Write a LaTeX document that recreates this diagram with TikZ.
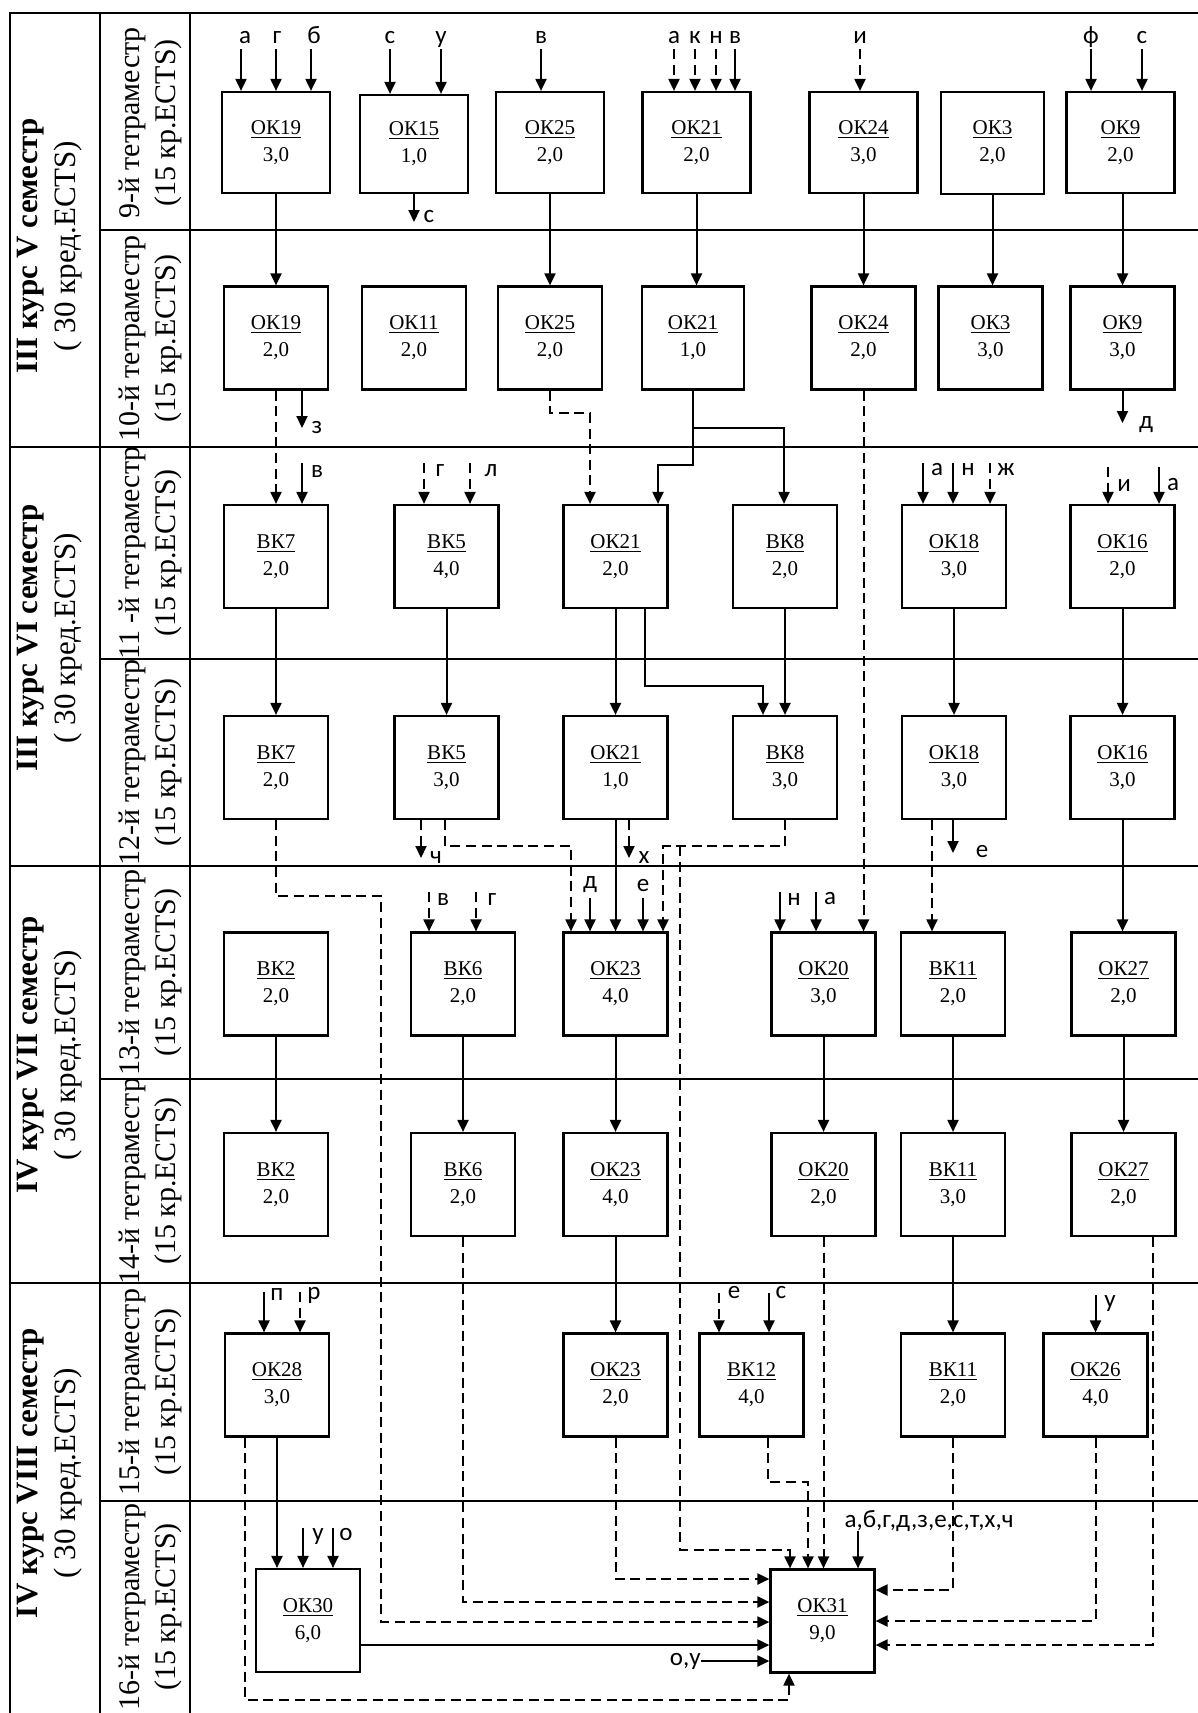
\documentclass[tikz,border=0pt]{standalone}
\usepackage{fontspec}
\setmainfont{Liberation Serif}
\newfontfamily\labfont{Carlito}
\usetikzlibrary{arrows.meta}
\newcommand\mybox[6][]{\node[box,#1] (#2) at (#3,#4) {\underline{#5}\\#6};}
\newcommand\myin[5][]{\coordinate (#2) at (#3,#4);\draw[arr,#1] (#2) -- (#2 |- #5.north);}
\newcommand\myout[5][]{\coordinate (#2) at (#3,#4);\draw[arr,#1] (#2 |- #5.south) -- (#2);}
\newcommand\vcon[3][]{\draw[arr,#1] (#2.south) -- (#2.south |- #3.north);}
\newcommand\lb[4]{\node[lab,anchor=base] (#1) at (#2,#3) {#4};}
\tikzset{
  grid/.style={line width=1.1pt},
  box/.style={draw, fill=white, line width=1.1pt, minimum width=52pt, minimum height=51.5pt, inner sep=0pt, align=center, font=\fontsize{10.5}{13.5}\selectfont},
  wide/.style={minimum width=54pt, minimum height=50.5pt},
  con/.style={line width=1pt},
  arr/.style={con, -{Triangle[length=6pt,width=5.5pt]}},
  dsh/.style={dash pattern=on 5pt off 2.8pt},
  lab/.style={font=\labfont\fontsize{12.5}{14}\selectfont, inner sep=0pt},
  rowlab/.style={rotate=90, align=center, font=\fontsize{15}{18}\selectfont, inner sep=0pt},
  semlab/.style={rotate=90, align=center, font=\fontsize{15.5}{19}\selectfont, inner sep=0pt}
}
\begin{document}
\begin{tikzpicture}[x=0.5pt,y=-0.5pt]
\useasboundingbox (0,0) rectangle (1198,1713);
% grid
\draw[grid] (10,1713) -- (10,13) -- (1198,13);
\draw[grid] (100,13) -- (100,1713);
\draw[grid] (190,13) -- (190,1713);
\foreach \yy in {447,866,1283} \draw[grid] (10,\yy) -- (1198,\yy);
\foreach \yy in {230,659,1079,1501} \draw[grid] (100,\yy) -- (1198,\yy);
% semester labels
\node[semlab] (s1) at (50,246) {\textbf{III курс V семестр}\\( 30 кред.ECTS)};
\node[semlab] (s2) at (50,638) {\textbf{III курс VI семестр}\\( 30 кред.ECTS)};
\node[semlab] (s3) at (50,1055) {\textbf{IV курс VII семестр}\\( 30 кред.ECTS)};
\node[semlab] (s4) at (50,1473) {\textbf{IV курс VIII семестр}\\( 30 кред.ECTS)};
% tetramester labels
\node[rowlab] (r9) at (150,123) {9-й тетраместр\\(15 кр.ECTS)};
\node[rowlab] (r10) at (150,338.5) {10-й тетраместр\\(15 кр.ECTS)};
\node[rowlab] (r11) at (150,553) {11 -й тетраместр\\(15 кр.ECTS)};
\node[rowlab] (r12) at (150,762.5) {12-й тетраместр\\(15 кр.ECTS)};
\node[rowlab] (r13) at (150,972.5) {13-й тетраместр\\(15 кр.ECTS)};
\node[rowlab] (r14) at (150,1181) {14-й тетраместр\\(15 кр.ECTS)};
\node[rowlab] (r15) at (150,1392) {15-й тетраместр\\(15 кр.ECTS)};
\node[rowlab] (r16) at (150,1607) {16-й тетраместр\\(15 кр.ECTS)};
% boxes row 9
\mybox[wide]{a19}{276}{142.5}{ОК19}{3,0}
\mybox[wide,minimum height=49pt]{a15}{414}{144}{ОК15}{1,0}
\mybox[wide]{a25}{550}{142.5}{ОК25}{2,0}
\mybox[wide]{a21}{696.5}{142.5}{ОК21}{2,0}
\mybox[wide]{a24}{863.5}{142.5}{ОК24}{3,0}
\mybox[minimum width=51.5pt,minimum height=51pt]{a3}{992.5}{143}{ОК3}{2,0}
\mybox[wide]{a9}{1120.5}{142.5}{ОК9}{2,0}
% row 10
\mybox{b19}{276}{338}{ОК19}{2,0}
\mybox{b11}{414}{338}{ОК11}{2,0}
\mybox{b25}{550}{338}{ОК25}{2,0}
\mybox[minimum width=51pt]{b21}{693}{338}{ОК21}{1,0}
\mybox{b24}{863.5}{338}{ОК24}{2,0}
\mybox{b3}{990.5}{338}{ОК3}{3,0}
\mybox{b9}{1122.5}{338}{ОК9}{3,0}
% row 11
\mybox{c7}{276}{556.5}{ВК7}{2,0}
\mybox{c5}{446.5}{556.5}{ВК5}{4,0}
\mybox{c21}{615.5}{556.5}{ОК21}{2,0}
\mybox{c8}{785}{556.5}{ВК8}{2,0}
\mybox{c18}{954}{556.5}{ОК18}{3,0}
\mybox{c16}{1122.5}{556.5}{ОК16}{2,0}
% row 12
\mybox{d7}{276}{767.5}{ВК7}{2,0}
\mybox{d5}{446.5}{767.5}{ВК5}{3,0}
\mybox{d21}{615.5}{767.5}{ОК21}{1,0}
\mybox{d8}{785}{767.5}{ВК8}{3,0}
\mybox{d18}{954}{767.5}{ОК18}{3,0}
\mybox{d16}{1122.5}{767.5}{ОК16}{3,0}
% row 13
\mybox{e2}{276}{984}{ВК2}{2,0}
\mybox{e6}{463}{984}{ВК6}{2,0}
\mybox{e23}{615.5}{984}{ОК23}{4,0}
\mybox{e20}{823.5}{984}{ОК20}{3,0}
\mybox{e11}{953}{984}{ВК11}{2,0}
\mybox{e27}{1123.5}{984}{ОК27}{2,0}
% row 14
\mybox{f2}{276}{1184.5}{ВК2}{2,0}
\mybox{f6}{463}{1184.5}{ВК6}{2,0}
\mybox{f23}{615.5}{1184.5}{ОК23}{4,0}
\mybox{f20}{823.5}{1184.5}{ОК20}{2,0}
\mybox{f11}{953}{1184.5}{ВК11}{3,0}
\mybox{f27}{1123.5}{1184.5}{ОК27}{2,0}
% row 15
\mybox{g28}{277}{1385}{ОК28}{3,0}
\mybox{g23}{615.5}{1385}{ОК23}{2,0}
\mybox{g12}{751.5}{1385}{ВК12}{4,0}
\mybox{g11}{953}{1385}{ВК11}{2,0}
\mybox{g26}{1095.5}{1385}{ОК26}{4,0}
% row 16
\mybox{h30}{308}{1620.5}{ОК30}{6,0}
\mybox{h31}{822.5}{1621}{ОК31}{9,0}
% ---- row 9 inputs
\myin{i1}{241}{49}{a19}\lb{t1}{245}{43}{а}
\myin{i2}{276}{49}{a19}\lb{t2}{277}{43}{г}
\myin{i3}{311}{49}{a19}\lb{t3}{314}{43}{б}
\myin{i4}{390}{49}{a15}\lb{t4}{390}{43}{с}
\myin{i5}{441}{49}{a15}\lb{t5}{441}{43}{у}
\myin{i6}{541}{49}{a25}\lb{t6}{541}{43}{в}
\myin[dsh]{i7}{674}{49}{a21}\lb{t7}{674}{43}{а}
\myin[dsh]{i8}{695}{49}{a21}\lb{t8}{695}{43}{к}
\myin[dsh]{i9}{716}{49}{a21}\lb{t9}{716}{43}{н}
\myin{i10}{735}{49}{a21}\lb{t10}{735}{43}{в}
\myin[dsh]{i11}{860}{49}{a24}\lb{t11}{860}{43}{и}
\myin{i12}{1091}{49}{a9}\lb{t12}{1091}{43}{ф}
\myin{i13}{1142}{49}{a9}\lb{t13}{1142}{43}{с}
\myout{o1}{414}{222}{a15}\lb{t14}{429}{222}{с}
% row 9 -> 10
\vcon{a19}{b19}
\vcon{a25}{b25}
\vcon{a21}{b21}
\vcon{a24}{b24}
\vcon{a3}{b3}
\draw[arr] (b9.north |- a9.south) -- (b9.north);
% row 10 outputs
\vcon[dsh]{b19}{c7}
\myout{o2}{302}{428}{b19}\lb{t15}{317}{433}{з}
\myin{i14}{302}{463}{c7}\lb{t16}{317}{477}{в}
\coordinate (k1) at (590,413);
\draw[arr,dsh] (b25.south) |- (k1) -- (k1 |- c21.north);
\coordinate (k2) at (658,465);
\draw[arr] (b21.south) |- (k2) -- (k2 |- c21.north);
\coordinate (k3) at (784,428);
\draw[arr] (b21.south |- k3) -- (k3) -- (k3 |- c8.north);
\vcon[dsh]{b24}{e20}
\myout{o3}{1122.5}{423}{b9}\lb{t17}{1146}{428}{д}
% row 11 inputs
\myin[dsh]{i15}{424}{463}{c5}\lb{t18}{440}{476}{г}
\myin[dsh]{i16}{470}{463}{c5}\lb{t19}{491}{476}{л}
\myin{i17}{923}{463}{c18}\lb{t20}{937}{475}{а}
\myin{i18}{953}{463}{c18}\lb{t21}{968}{475}{н}
\myin[dsh]{i19}{990}{463}{c18}\lb{t22}{1006}{475}{ж}
\myin[dsh]{i20}{1108}{467}{c16}\lb{t23}{1124}{491}{и}
\myin{i21}{1159}{467}{c16}\lb{t24}{1173}{490}{а}
% row 11 -> 12
\vcon{c7}{d7}
\vcon{c5}{d5}
\vcon{c21}{d21}
\vcon{c8}{d8}
\vcon{c18}{d18}
\vcon{c16}{d16}
\coordinate (k5) at (645,686);
\coordinate (k4) at (763,686);
\draw[arr] (k5 |- c21.south) -- (k5) -- (k4) -- (k4 |- d8.north);
% row 12 outputs
\coordinate (k6) at (381,896);
\coordinate (k7) at (381,1622);
\draw[arr,dsh] (d7.south) |- (k6) -- (k7) -- (k7 -| h31.west);
\myout[dsh]{o4}{421}{858}{d5}\lb{t25}{436}{863}{ч}
\coordinate (k8) at (445,846);
\coordinate (k9) at (571,846);
\draw[arr,dsh] (k8 |- d5.south) -- (k8) -- (k9) -- (k9 |- e23.north);
\vcon{d21}{e23}
\myout[dsh]{o5}{629}{858}{d21}\lb{t26}{644}{863}{х}
\coordinate (k10) at (663,846);
\draw[arr,dsh] (d8.south) |- (k10) -- (k10 |- e23.north);
\coordinate (k11) at (680,846);
\coordinate (k12) at (790,1550);
\draw[arr,dsh] (k11) |- (k12) -- (k12 |- h31.north);
\coordinate (k13) at (932,830);
\draw[arr,dsh] (k13 |- d18.south) -- (k13 |- e11.north);
\myout{o6}{953}{853}{d18}\lb{t27}{982}{857}{е}
\vcon{d16}{e27}
% row 13 inputs
\myin[dsh]{i22}{429}{892}{e6}\lb{t28}{443}{905}{в}
\myin[dsh]{i23}{476}{892}{e6}\lb{t29}{492}{905}{г}
\myin{i24}{590}{898}{e23}\lb{t30}{590}{888}{д}
\myin{i25}{643}{898}{e23}\lb{t31}{643}{891}{е}
\myin{i26}{780}{892}{e20}\lb{t32}{794}{905}{н}
\myin{i27}{816}{892}{e20}\lb{t33}{830}{904}{а}
% row 13 -> 14
\vcon{e2}{f2}
\vcon{e6}{f6}
\vcon{e23}{f23}
\vcon{e20}{f20}
\vcon{e11}{f11}
\vcon{e27}{f27}
% row 14 outputs
\coordinate (k14) at (463,1602);
\draw[arr,dsh] (f6.south) -- (k14) -- (k14 -| h31.west);
\vcon{f23}{g23}
\draw[arr,dsh] (f20.south) -- (f20.south |- h31.north);
\vcon{f11}{g11}
\coordinate (k15) at (1153,1645);
\draw[arr,dsh] (k15 |- f27.south) -- (k15) -- (k15 -| h31.east);
% row 15 inputs
\myin{i28}{264}{1292}{g28}\lb{t34}{277}{1300}{п}
\myin[dsh]{i29}{300}{1292}{g28}\lb{t35}{314}{1299}{р}
\myin[dsh]{i30}{719}{1293}{g12}\lb{t36}{734}{1298}{е}
\myin{i31}{769}{1293}{g12}\lb{t37}{781}{1298}{с}
\myin{i32}{1095.5}{1295}{g26}\lb{t38}{1110}{1307}{у}
% row 15 outputs
\draw[arr] (g28.south) -- (g28.south |- h30.north);
\coordinate (k16) at (245,1700);
\coordinate (k17) at (789,1700);
\draw[arr,dsh] (k16 |- g28.south) -- (k16) -- (k17) -- (k17 |- h31.south);
\coordinate (k18) at (615.5,1579);
\draw[arr,dsh] (g23.south) -- (k18) -- (k18 -| h31.west);
\coordinate (k19) at (768,1482);
\coordinate (k20) at (808,1482);
\draw[arr,dsh] (k19 |- g12.south) -- (k19) -- (k20) -- (k20 |- h31.north);
\coordinate (k21) at (953,1590);
\draw[arr,dsh] (g11.south) -- (k21) -- (k21 -| h31.east);
\coordinate (k22) at (1095.5,1621);
\draw[arr,dsh] (g26.south) -- (k22) -- (k22 -| h31.east);
% row 16
\myin{i33}{303}{1528}{h30}\lb{t39}{318}{1540}{у}
\myin{i34}{333}{1528}{h30}\lb{t40}{346}{1540}{о}
\coordinate (k23) at (360,1645);
\draw[arr] (k23 -| h30.east) -- (k23 -| h31.west);
\node[lab,anchor=east] (tou) at (701,1661) {о,у};
\draw[arr] (tou.east) -- (tou.east -| h31.west);
\lb{tall}{929}{1527}{а,б,г,д,з,е,с,т,х,ч}
\coordinate (k24) at (858,1531);
\draw[arr] (k24) -- (k24 |- h31.north);
\end{tikzpicture}
\end{document}
